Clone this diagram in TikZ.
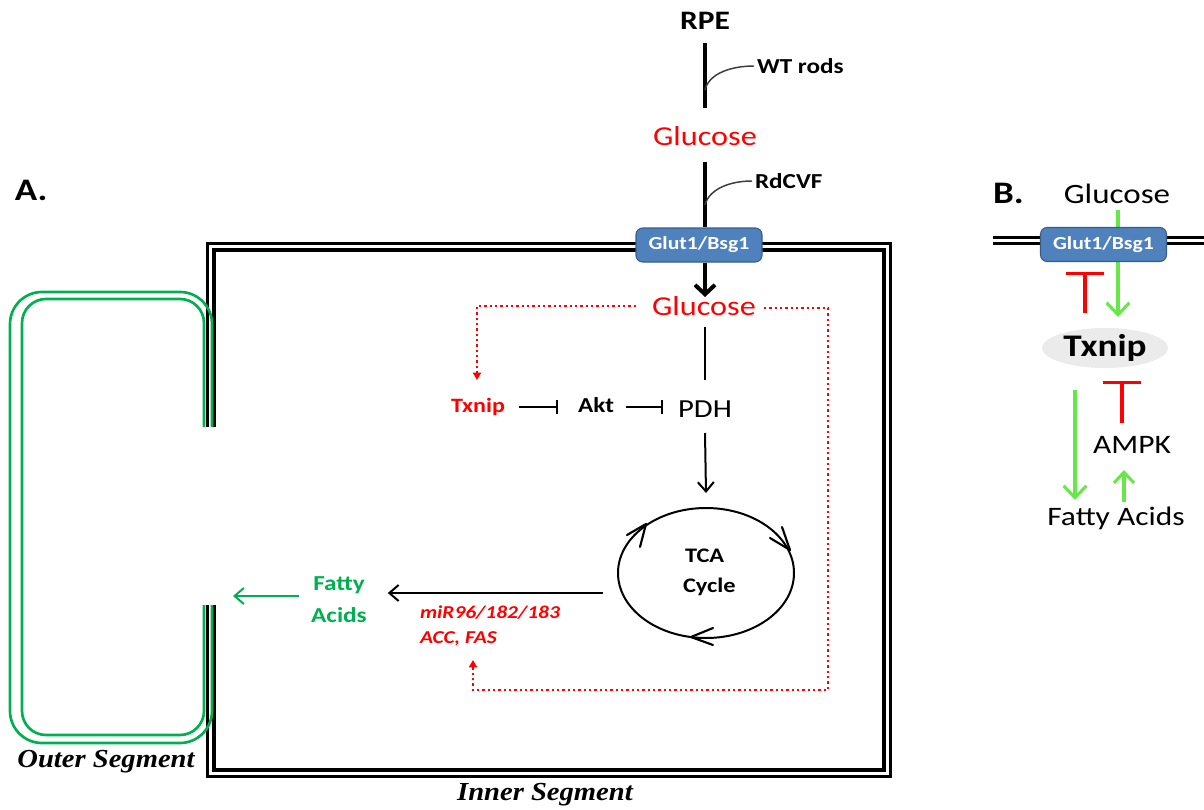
\documentclass[tikz,border=0pt]{standalone}
\usepackage{fontspec}
\setmainfont{Carlito}[FakeStretch=1.18]
\newfontfamily\segfont{Liberation Serif}[FakeStretch=1.1]
\usetikzlibrary{arrows.meta,shapes.geometric,calc}
\definecolor{redc}{RGB}{255,0,0}
\definecolor{greenA}{RGB}{0,176,80}
\definecolor{greenB}{RGB}{102,232,72}
\definecolor{boxblue}{RGB}{79,129,189}
\definecolor{boxedge}{RGB}{56,93,138}
\definecolor{ellgray}{RGB}{235,235,235}
\definecolor{curvegray}{RGB}{60,60,60}
\newcommand{\fsz}[1]{\fontsize{#1pt}{#1pt}\selectfont}
\tikzset{
  txt/.style={inner sep=0pt, outer sep=0pt},
  panellbl/.style={txt, font=\bfseries\fsz{23.5}},
  rpestyle/.style={txt, font=\bfseries\fsz{20}},
  notestyle/.style={txt, font=\bfseries\fsz{16}},
  glucred/.style={txt, text=redc, font=\fsz{20.5}},
  glutbox/.style={rectangle, rounded corners=5pt, fill=boxblue, draw=boxedge, line width=0.8pt,
     minimum width=94.5pt, minimum height=25.5pt, inner sep=0pt, text=white, font=\bfseries\fsz{13.8}},
  segstyle/.style={txt, font=\segfont\bfseries\itshape\fsz{19.5}},
  thickblk/.style={line width=3pt},
  thinblk/.style={line width=1.5pt},
  chev/.style={line width=1.6pt, line cap=round, line join=round},
  membline/.style={line width=2.4pt},
  greenmemb/.style={greenA, line width=2pt},
  curvel/.style={curvegray, line width=1.1pt},
  dotred/.style={redc, line width=1.9pt, dash pattern=on 1.9pt off 2.1pt,
     -{Triangle[length=5.5pt,width=6pt]}},
  actA/.style={line width=1.5pt, -{Straight Barb[length=7pt,width=12pt]}},
  inhA/.style={line width=1.5pt, -{Bar[width=10pt]}},
  actB/.style={greenB, line width=2.3pt, -{Straight Barb[length=9pt,width=17pt]}},
  inhB/.style={redc, line width=2.3pt, -{Bar[width=28pt]}},
}
\begin{document}
\begin{tikzpicture}[x=0.75pt,y=-0.75pt]
\useasboundingbox (0,0) rectangle (1204,810);

% ---------- membranes (panel A) ----------
\draw[membline] (207.5,427) -- (207.5,243.5) -- (890.5,243.5) -- (890.5,776.5) -- (207.5,776.5) -- (207.5,605);
\draw[membline] (214,427) -- (214,250) -- (884,250) -- (884,770) -- (214,770) -- (214,605);
\draw[greenmemb, rounded corners=24pt] (212,427) -- (212,292) -- (10,292) -- (10,743) -- (212,743) -- (212,605);
\draw[greenmemb, rounded corners=18pt] (204,427) -- (204,299) -- (22,299) -- (22,735) -- (204,735) -- (204,605);

% ---------- membrane (panel B) ----------
\draw[membline] (993,237.5) -- (1204,237.5);
\draw[membline] (993,243.5) -- (1204,243.5);

% ---------- panel A nodes ----------
\node[panellbl, anchor=base west] (labA) at (15,200) {A.};
\node[rpestyle, anchor=base] (rpe) at (705,30) {RPE};
\node[notestyle, anchor=base west] (wt) at (757,73) {WT rods};
\node[glucred, anchor=base] (glu1) at (705,145) {Glucose};
\node[notestyle, anchor=base west] (rdcvf) at (755,188) {RdCVF};
\node[glutbox] (glut1) at (699,245) {Glut1/Bsg1};
\node[glucred, anchor=base] (glu2) at (704,315) {Glucose};
\node[txt, anchor=base, text=redc, font=\bfseries\fsz{15.3}] (txA) at (478,412) {Txnip};
\node[notestyle, anchor=base] (akt) at (596,412) {Akt};
\node[txt, anchor=base, font=\fsz{19.5}] (pdh) at (705,417) {PDH};
\node[txt, anchor=base west, font=\bfseries\fsz{15.5}] (tca) at (685,562) {TCA};
\node[txt, anchor=base west, font=\bfseries\fsz{15.5}] (cyc) at (683,592) {Cycle};
\node[txt, anchor=base, text=greenA, font=\bfseries\fsz{16}] (fatty) at (339,590) {Fatty};
\node[txt, anchor=base, text=greenA, font=\bfseries\fsz{16}] (acids) at (339,622) {Acids};
\node[txt, anchor=base west, text=redc, font=\bfseries\itshape\fsz{13.6}] (mir) at (420,618) {miR96/182/183};
\node[txt, anchor=base west, text=redc, font=\bfseries\itshape\fsz{13.6}] (acc) at (420,643) {ACC, FAS};
\node[segstyle, anchor=base] (outer) at (106,767) {Outer Segment};
\node[segstyle, anchor=base] (inner) at (545,800) {Inner Segment};

\coordinate (tcac) at (706,573);
\coordinate (osgap) at (233,596);
\coordinate (dr) at (828,690);

% TCA cycle with three chevron heads (clockwise)
\draw[thinblk] (tcac) ellipse [x radius=88, y radius=65];
\draw[chev] ($(tcac)+(-79,-38)$) -- ($(tcac)+(-60,-49)$) -- ($(tcac)+(-66,-26)$);
\draw[chev] ($(tcac)+(64,-35)$) -- ($(tcac)+(84,-23)$) -- ($(tcac)+(76,-46)$);
\draw[chev] ($(tcac)+(7,55)$) -- ($(tcac)+(-15,64)$) -- ($(tcac)+(7,72)$);

% connectors panel A
\draw[thickblk] ($(rpe.base)+(0,13)$) -- ($(glu1.base)+(0,-37)$);
\draw[curvel] ($(rpe.base)+(0,60)$) .. controls +(4,-17) and +(-22,0) .. ($(wt.base west)+(-3,-7)$);
\draw[thickblk] ($(glu1.base)+(0,17)$) -- ($(glut1.north)+(6,0)$);
\draw[curvel] ($(glu1.base)+(0,60)$) .. controls +(4,-16) and +(-22,0) .. ($(rdcvf.base west)+(-3,-7)$);
\draw[thickblk, -{Straight Barb[length=7pt,width=15pt]}] ($(glut1.south)+(6,0)$) -- ($(glu2.base)+(1,-18)$);
\draw[thinblk] ($(glu2.base)+(1,12)$) -- ($(pdh.base)+(0,-37)$);
\draw[inhA] ($(txA.base east)+(14,-5)$) -- ($(akt.base west)+(-20,-5)$);
\draw[inhA] ($(akt.base east)+(12,-5)$) -- ($(pdh.base west)+(-15,-10)$);
\draw[actA] ($(pdh.base)+(0,16)$) -- ($(tcac)+(0,-80)$);
\draw[actA] ($(tcac)+(-103,20)$) -- ($(acids.base east)+(21,-29)$);
\draw[greenA, actA] ($(fatty.base west)+(-14,6)$) -- (osgap);
\draw[dotred] ($(glu2.base west)+(-16,-9)$) -| ($(txA.base)+(-1,-32)$);
\draw[dotred] ($(glu2.base east)+(8,-7)$) -| (dr) -| ($(acc.base west)+(53,17)$);

% ---------- panel B ----------
\node[panellbl, anchor=base west] (labB) at (993,203) {B.};
\node[txt, anchor=base, font=\fsz{21}] (gluB) at (1117,203) {Glucose};
\coordinate (gtip) at (1118,317);
\draw[actB] ($(gluB.base)+(1,7)$) -- (gtip);
\node[glutbox] (glutB) at (1103.5,244.5) {Glut1/Bsg1};
\node[ellipse, fill=ellgray, minimum width=94.5pt, minimum height=30pt, inner sep=0pt,
      font=\bfseries\fsz{23.6}] (txB) at (1105,348) {Txnip};
\node[txt, anchor=base, font=\fsz{20}] (ampk) at (1132,453) {AMPK};
\node[txt, anchor=base, font=\fsz{20}] (faB) at (1116,525) {Fatty Acids};

\draw[inhB] ($(txB.north)+(-20,-15)$) -- ($(glutB.south)+(-18.5,10)$);
\draw[actB] ($(txB.south)+(-30,22)$) -- ($(faB.base)+(-41,-25)$);
\draw[inhB] ($(ampk.base)+(-10,-30)$) -- ($(txB.south)+(17,13)$);
\draw[actB, -{Straight Barb[length=8pt,width=15pt]}] ($(faB.base)+(8,-23)$) -- ($(ampk.base)+(-8,17)$);
\end{tikzpicture}
\end{document}
